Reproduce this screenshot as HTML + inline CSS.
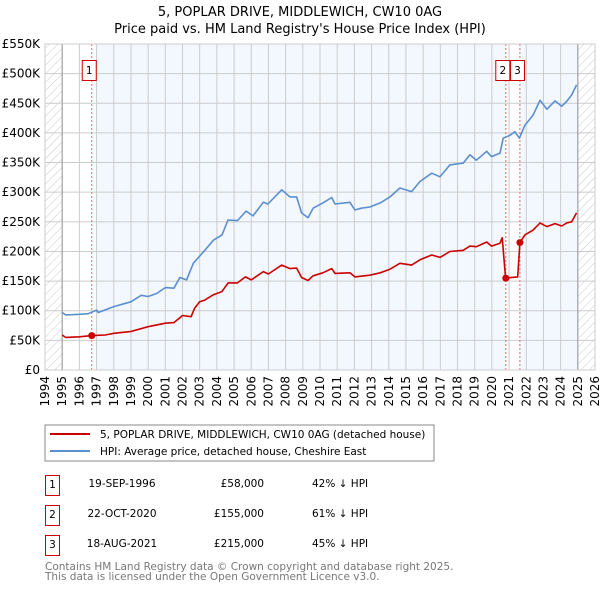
<!DOCTYPE html>
<html><head><meta charset="utf-8"><style>
body{margin:0;background:#fff;font-family:"Liberation Sans","DejaVu Sans",sans-serif}
svg text{font-family:"DejaVu Sans","Liberation Sans",sans-serif}
</style></head><body>
<svg id="chart" width="600" height="590" xmlns="http://www.w3.org/2000/svg">
<defs><pattern id="hatch" width="6" height="6" patternUnits="userSpaceOnUse" patternTransform="rotate(45)"><line x1="0" y1="0" x2="0" y2="6" stroke="#bbb" stroke-width="0.8"/></pattern></defs>
<text x="300" y="16" text-anchor="middle" font-size="13">5, POPLAR DRIVE, MIDDLEWICH, CW10 0AG</text>
<text x="300" y="33" text-anchor="middle" font-size="13">Price paid vs. HM Land Registry's House Price Index (HPI)</text>
<g id="plot"></g>
<rect x="45" y="425" width="389" height="36" fill="#fff" stroke="#888"/>
<line x1="50" y1="434" x2="90" y2="434" stroke="#cc0000" stroke-width="2"/>
<text x="100" y="438" font-size="10.5">5, POPLAR DRIVE, MIDDLEWICH, CW10 0AG (detached house)</text>
<line x1="50" y1="451" x2="90" y2="451" stroke="#5b8fd0" stroke-width="2"/>
<text x="100" y="455" font-size="10.5">HPI: Average price, detached house, Cheshire East</text>
<g font-size="10.5">
<rect x="45.5" y="475.5" width="14" height="20" fill="#fff" stroke="#cc0000"/><text x="52.5" y="488" text-anchor="middle">1</text>
<text x="122" y="487" text-anchor="middle">19-SEP-1996</text><text x="264" y="487" text-anchor="end">£58,000</text><text x="312" y="487">42% ↓ HPI</text>
<rect x="45.5" y="505.5" width="14" height="20" fill="#fff" stroke="#cc0000"/><text x="52.5" y="518" text-anchor="middle">2</text>
<text x="122" y="517" text-anchor="middle">22-OCT-2020</text><text x="264" y="517" text-anchor="end">£155,000</text><text x="312" y="517">61% ↓ HPI</text>
<rect x="45.5" y="535.5" width="14" height="20" fill="#fff" stroke="#cc0000"/><text x="52.5" y="548" text-anchor="middle">3</text>
<text x="122" y="547" text-anchor="middle">18-AUG-2021</text><text x="264" y="547" text-anchor="end">£215,000</text><text x="312" y="547">45% ↓ HPI</text>
</g>
<text x="45" y="570" font-size="10.5" fill="#777">Contains HM Land Registry data © Crown copyright and database right 2025.</text>
<text x="45" y="580" font-size="10.5" fill="#777">This data is licensed under the Open Government Licence v3.0.</text>
</svg>
<script>
const yTicks=[0,50,100,150,200,250,300,350,400,450,500,550];
const yTickLabels=["£0","£50K","£100K","£150K","£200K","£250K","£300K","£350K","£400K","£450K","£500K","£550K"];
const xYears=[1994,1995,1996,1997,1998,1999,2000,2001,2002,2003,2004,2005,2006,2007,2008,2009,2010,2011,2012,2013,2014,2015,2016,2017,2018,2019,2020,2021,2022,2023,2024,2025,2026];
const hpiYears=[1995,1995.2,1996,1996.5,1997,1997.1,1998,1999,1999.6,2000,2000.5,2001,2001.5,2001.85,2002.24,2002.63,2003.3,2003.8,2004.3,2004.65,2005.2,2005.7,2006.1,2006.7,2006.97,2007.77,2008.25,2008.64,2008.93,2009.3,2009.6,2010.17,2010.68,2010.87,2011.74,2012.03,2012.4,2012.9,2013.5,2014.07,2014.65,2015.33,2015.82,2016.5,2016.98,2017.56,2018.33,2018.72,2019.1,2019.7,2019.98,2020.47,2020.66,2021.05,2021.34,2021.6,2021.92,2022.4,2022.8,2023.2,2023.67,2024.06,2024.35,2024.64,2024.93];
const hpiValues=[97,93,94,95,101,97,107,115,126,124,129,139,138,156,152,180,202,219,228,253,252,268,260,283,280,304,292,292,265,257,273,282,291,280,283,270,273,275,282,292,307,301,318,332,326,346,349,363,354,369,360,366,391,396,402,391,413,430,455,440,454,445,453,464,481];
const priceYears=[1995,1995.2,1996,1996.72,1997.5,1998,1999,2000,2001,2001.5,2002,2002.5,2002.7,2003,2003.3,2003.8,2004.28,2004.66,2005.2,2005.66,2006,2006.7,2007,2007.77,2008.25,2008.64,2008.93,2009.3,2009.6,2010.17,2010.68,2010.87,2011.74,2012.03,2012.9,2013.5,2014.07,2014.65,2015.33,2015.82,2016.5,2016.98,2017.56,2018.33,2018.72,2019.1,2019.7,2019.98,2020.47,2020.6,2020.8,2021.5,2021.63,2021.92,2022.4,2022.8,2023.2,2023.67,2024.06,2024.35,2024.64,2024.93];
const priceValues=[59,55,56,58,59,62,65,73,79,80,92,90,104,115,118,127,132,147,147,157,152,166,162,177,171,172,156,151,159,164,171,163,164,157,160,164,170,180,177,186,194,190,200,202,209,208,216,209,214,223,155,157,215,228,236,248,242,247,243,248,250,265];
const saleYears=[1996.72,2020.81,2021.63];
const saleValues=[58,155,215];
const saleLabels=["1","2","3"];

const X0=45,X1=595,Y0=370,Y1=44;
const xs=y=>X0+(y-1994)*(X1-X0)/32;
const ys=v=>Y0-v*(Y0-Y1)/550;
const NS="http://www.w3.org/2000/svg";
const g=document.getElementById('plot');
function mk(t,a,p){const e=document.createElementNS(NS,t);for(const k in a)e.setAttribute(k,a[k]);(p||g).appendChild(e);return e;}
mk('rect',{x:xs(1997),y:Y1,width:xs(saleYears[1])-xs(1997),height:Y0-Y1,fill:'#f3f7fe'});
mk('rect',{x:xs(saleYears[2]),y:Y1,width:xs(2025)-xs(saleYears[2]),height:Y0-Y1,fill:'#f3f7fe'});
mk('rect',{x:xs(1994),y:Y1,width:xs(1995)-xs(1994),height:Y0-Y1,fill:'url(#hatch)'});
mk('rect',{x:xs(2025),y:Y1,width:xs(2026)-xs(2025),height:Y0-Y1,fill:'url(#hatch)'});
xYears.forEach(y=>{const l=mk('line',{x1:xs(y),x2:xs(y),y1:Y1,y2:Y0,stroke:'#ccc','stroke-width':1});


const t=mk('text',{x:0,y:0,'font-size':12,'text-anchor':'end',transform:`translate(${xs(y)+4},${Y0+6}) rotate(-90)`});t.textContent=y;

});
yTicks.forEach((v,i)=>{const l=mk('line',{x1:X0,x2:X1,y1:ys(v),y2:ys(v),stroke:'#ccc','stroke-width':1});


const t=mk('text',{x:X0-5,y:ys(v)+4,'font-size':12,'text-anchor':'end'});t.textContent=yTickLabels[i];

});
mk('line',{x1:xs(1995),x2:xs(1995),y1:Y1,y2:Y0,stroke:'#999','stroke-width':1});
mk('line',{x1:xs(2025),x2:xs(2025),y1:Y1,y2:Y0,stroke:'#999','stroke-width':1});
saleYears.forEach((y,i)=>{const l=mk('line',{x1:xs(y),x2:xs(y),y1:Y1,y2:Y0,stroke:'#e66','stroke-width':1,'stroke-dasharray':'2,2'});

});
function line(xa,va,c,name){const d=xa.map((y,i)=>(i?'L':'M')+xs(y).toFixed(1)+','+ys(va[i]).toFixed(1)).join('');
const p=mk('path',{d:d,fill:'none',stroke:c,'stroke-width':1.6,'stroke-linejoin':'round'});

}
line(hpiYears,hpiValues,'#5b8fd0','hpi-line');
line(priceYears,priceValues,'#cc0000','price-paid-line');
saleYears.forEach((y,i)=>{const c=mk('circle',{cx:xs(y),cy:ys(saleValues[i]),r:3.5,fill:'#cc0000'});

});
const boxX=[xs(saleYears[0])-9.5,xs(saleYears[1])-10,xs(saleYears[1])+4.7];
saleYears.forEach((y,i)=>{const r=mk('rect',{x:boxX[i],y:60.5,width:14,height:20,fill:'#fff',stroke:'#cc0000'});


const t=mk('text',{x:boxX[i]+7,y:74,'font-size':10.5,'text-anchor':'middle'});t.textContent=saleLabels[i];});
mk('rect',{x:X0,y:Y1,width:X1-X0,height:Y0-Y1,fill:'none',stroke:'#ccc'});
</script>
</body></html>
